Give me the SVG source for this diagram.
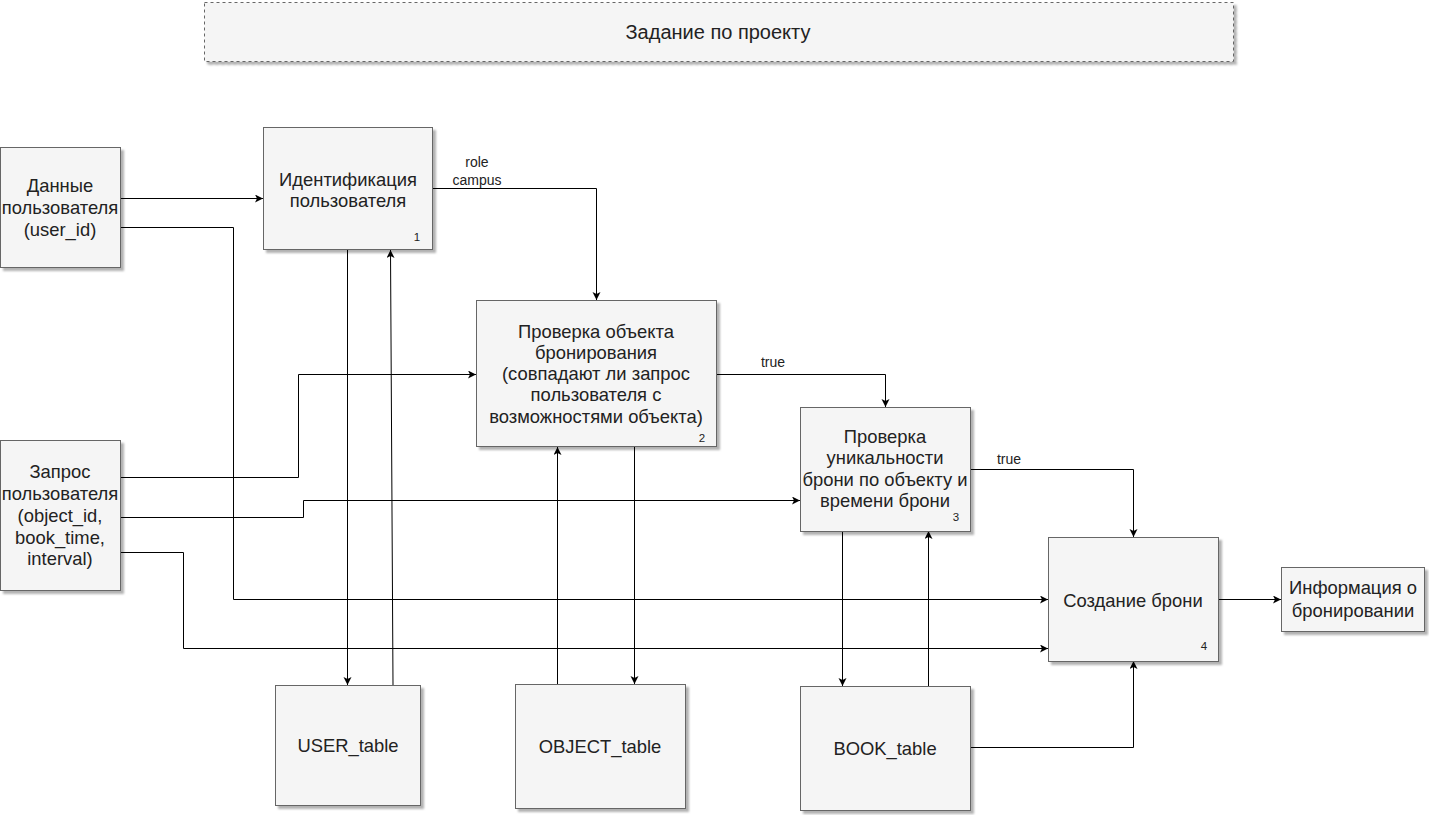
<svg xmlns="http://www.w3.org/2000/svg" width="1429" height="815" viewBox="0 0 1429 815">
<style>
.box{fill:#f5f5f5;stroke:#666666;stroke-width:1;filter:url(#sh)}
.t{font-family:"Liberation Sans",Arial,sans-serif;font-size:18.4px;fill:#222;text-anchor:middle}
.s{font-family:"Liberation Sans",Arial,sans-serif;font-size:14px;fill:#222;text-anchor:middle}
.n{font-family:"Liberation Sans",Arial,sans-serif;font-size:11.5px;fill:#222;text-anchor:middle}
.ca{fill:none;stroke:#000;stroke-width:1;marker-end:url(#ar)}
</style>
<defs>
<filter id="sh" x="-10%" y="-10%" width="130%" height="130%">
<feDropShadow dx="3" dy="3" stdDeviation="0.8" flood-color="#000" flood-opacity="0.3"/>
</filter>
<marker id="ar" markerUnits="userSpaceOnUse" markerWidth="10" markerHeight="10" refX="8" refY="4" orient="auto">
<path d="M0,0 L8,4 L0,8 L2,4 Z" fill="#000"/>
</marker>
</defs>
<rect width="1429" height="815" fill="#ffffff"/>

<g id="title">
<rect class="box" x="204.5" y="2.5" width="1029" height="59" stroke-dasharray="3 3"/>
<text class="t" x="718" y="39" style="font-size:20px">Задание по проекту</text>
</g>

<g id="connectors">
<path class="ca" d="M120,198.5 H263"/>
<path class="ca" d="M120,227.5 H233.5 V599.5 H1048"/>
<path class="ca" d="M433,188.5 H596.5 V300"/>
<path class="ca" d="M347.5,250 V685"/>
<path class="ca" d="M393,685 L390.5,250"/>
<path class="ca" d="M120,477.5 H298.5 V374.5 H476"/>
<path class="ca" d="M120,517.5 H303.5 V500.5 H800"/>
<path class="ca" d="M120,552.5 H183.5 V648.5 H1048"/>
<path class="ca" d="M716,374.5 H885.5 V407"/>
<path class="ca" d="M634.5,447 V684"/>
<path class="ca" d="M557.5,684 V447"/>
<path class="ca" d="M971,469.5 H1133.5 V537"/>
<path class="ca" d="M842.5,531 V686"/>
<path class="ca" d="M928.5,686 V531"/>
<path class="ca" d="M971,747.5 H1133.5 V661"/>
<path class="ca" d="M1219,599.5 H1281"/>
<text class="s" x="477" y="167">role</text>
<text class="s" x="477" y="185">campus</text>
<text class="s" x="773" y="367">true</text>
<text class="s" x="1009" y="464">true</text>
</g>

<g id="user_data">
<rect class="box" x="0.5" y="147.5" width="120" height="120"/>
<text class="t" x="60" y="192">Данные</text>
<text class="t" x="60" y="214">пользователя</text>
<text class="t" x="60" y="236">(user_id)</text>
</g>

<g id="request">
<rect class="box" x="0.5" y="440.5" width="120" height="150"/>
<text class="t" x="60" y="478">Запрос</text>
<text class="t" x="60" y="500">пользователя</text>
<text class="t" x="60" y="522">(object_id,</text>
<text class="t" x="60" y="544">book_time,</text>
<text class="t" x="60" y="565">interval)</text>
</g>

<g id="node1">
<rect class="box" x="263.5" y="127.5" width="169" height="122"/>
<text class="t" x="348" y="186">Идентификация</text>
<text class="t" x="348" y="207">пользователя</text>
<text class="n" x="417" y="241">1</text>
</g>

<g id="node2">
<rect class="box" x="476.5" y="300.5" width="240" height="146"/>
<text class="t" x="596" y="338">Проверка объекта</text>
<text class="t" x="596" y="359">бронирования</text>
<text class="t" x="596" y="380">(совпадают ли запрос</text>
<text class="t" x="596" y="401">пользователя с</text>
<text class="t" x="596" y="423">возможностями объекта)</text>
<text class="n" x="702" y="442">2</text>
</g>

<g id="node3">
<rect class="box" x="800.5" y="407.5" width="170" height="124"/>
<text class="t" x="885" y="443">Проверка</text>
<text class="t" x="885" y="464">уникальности</text>
<text class="t" x="885" y="486">брони по объекту и</text>
<text class="t" x="885" y="507">времени брони</text>
<text class="n" x="956" y="521">3</text>
</g>

<g id="node4">
<rect class="box" x="1048.5" y="537.5" width="170" height="124"/>
<text class="t" x="1133" y="607">Создание брони</text>
<text class="n" x="1204" y="650">4</text>
</g>

<g id="output">
<rect class="box" x="1281.5" y="567.5" width="143" height="64"/>
<text class="t" x="1353" y="594">Информация о</text>
<text class="t" x="1353" y="617">бронировании</text>
</g>

<g id="user_table">
<rect class="box" x="275.5" y="685.5" width="145" height="120"/>
<text class="t" x="348" y="752">USER_table</text>
</g>

<g id="object_table">
<rect class="box" x="515.5" y="684.5" width="170" height="124"/>
<text class="t" x="600" y="753">OBJECT_table</text>
</g>

<g id="book_table">
<rect class="box" x="800.5" y="686.5" width="170" height="124"/>
<text class="t" x="885" y="755">BOOK_table</text>
</g>
</svg>
